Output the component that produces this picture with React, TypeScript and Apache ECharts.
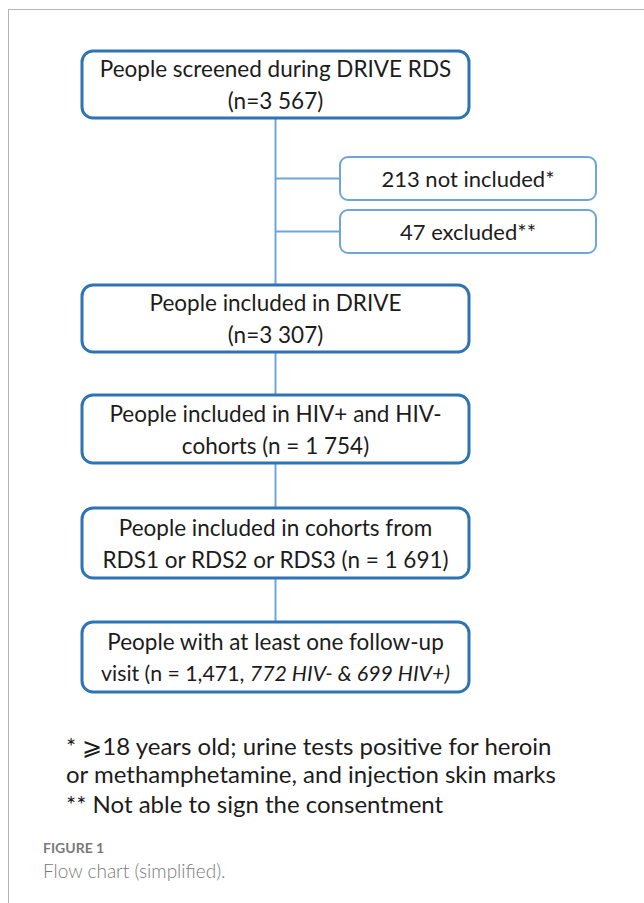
import React, { useEffect, useRef } from "react";
import * as echarts from "echarts";

// ---- content ----
const mainBoxLines: string[][] = [
  ["People screened during DRIVE RDS", "(n=3 567)"],
  ["People included in DRIVE", "(n=3 307)"],
  ["People included in HIV+ and HIV-", "cohorts (n = 1 754)"],
  ["People included in cohorts from", "RDS1 or RDS2 or RDS3 (n = 1 691)"],
  ["People with at least one follow-up", "{n|visit (n = 1,471, }{i|772 HIV- & 699 HIV+)}"],
];
const sideBoxLabels: string[] = ["213 not included*", "47 excluded**"];
const footnotes: string[] = [
  "* \u2A7E18 years old; urine tests positive for heroin",
  "or methamphetamine, and injection skin marks",
  "** Not able to sign the consentment",
];
const figureLabel = "FIGURE 1";
const captionText = "Flow chart (simplified).";

// ---- layout (styles) ----
const FONT = "Lato";
const MAIN_X = 82;
const MAIN_W = 387;
const MAIN_TOPS = [51, 285, 395, 508, 622];
const MAIN_H = [67, 67, 68, 70, 70];
const SIDE_X = 340;
const SIDE_W = 256;
const SIDE_TOPS = [157, 210];
const SIDE_H = 43;
const SPINE_X = 275.5;
const DARK_BLUE = "#2E74B5";
const LIGHT_BLUE = "#6FA6DA";
const TEXT_COLOR = "#1c1c1c";
const FS = 22.5;
const SIDE_FS = 22;
const RICH_FS = 21.3;
const FOOT_FS = 24;

export default function App() {
  const ref = useRef<HTMLDivElement>(null);
  useEffect(() => {
    if (!ref.current) return;
    const chart = echarts.init(ref.current, null, { renderer: "svg" });
    const els: any[] = [];

    // frame
    els.push({ type: "line", shape: { x1: 8, y1: 9.5, x2: 644, y2: 9.5 }, style: { stroke: "#b3b3b3", lineWidth: 1 } });
    els.push({ type: "line", shape: { x1: 8.5, y1: 9, x2: 8.5, y2: 903 }, style: { stroke: "#b3b3b3", lineWidth: 1 } });

    // connectors
    for (let i = 0; i < MAIN_TOPS.length - 1; i++) {
      const y1 = MAIN_TOPS[i] + MAIN_H[i];
      const y2 = MAIN_TOPS[i + 1];
      els.push({ type: "line", shape: { x1: SPINE_X, y1, x2: SPINE_X, y2 }, style: { stroke: LIGHT_BLUE, lineWidth: 2 } });
    }
    sideBoxLabels.forEach((label, i) => {
      const top = SIDE_TOPS[i];
      const cy = top + SIDE_H / 2;
      els.push({ type: "line", shape: { x1: SPINE_X, y1: cy, x2: SIDE_X, y2: cy }, style: { stroke: LIGHT_BLUE, lineWidth: 2 } });
      els.push({
        type: "rect",
        shape: { x: SIDE_X, y: top, width: SIDE_W, height: SIDE_H, r: 8 },
        style: { fill: "#fff", stroke: LIGHT_BLUE, lineWidth: 2 },
      });
      els.push({
        type: "text",
        style: {
          text: label, x: SIDE_X + SIDE_W / 2, y: cy, align: "center", verticalAlign: "middle",
          fontFamily: FONT, fontSize: SIDE_FS, fill: TEXT_COLOR,
        },
      });
    });

    mainBoxLines.forEach((lines, i) => {
      const top = MAIN_TOPS[i];
      const h = MAIN_H[i];
      els.push({
        type: "rect",
        shape: { x: MAIN_X, y: top, width: MAIN_W, height: h, r: 11 },
        style: { fill: "#fff", stroke: DARK_BLUE, lineWidth: 3 },
      });
      const cx = MAIN_X + MAIN_W / 2;
      const cy = top + h / 2;
      lines.forEach((ln, j) => {
        const y = cy + (j === 0 ? -16 : 16);
        const style: any = {
          text: ln, x: cx, y, align: "center", verticalAlign: "middle",
          fontFamily: FONT, fontSize: FS, fill: TEXT_COLOR,
        };
        if (ln.indexOf("{") === 0) {
          style.fontSize = RICH_FS;
          style.rich = {
            n: { fontFamily: FONT, fontSize: RICH_FS, fill: TEXT_COLOR, color: TEXT_COLOR },
            i: { fontFamily: FONT, fontSize: RICH_FS, fontStyle: "italic", fill: TEXT_COLOR, color: TEXT_COLOR },
          };
        }
        els.push({ type: "text", style });
      });
    });

    const FOOT_TOPS = [745, 773, 803];
    footnotes.forEach((t, i) => {
      els.push({
        type: "text",
        style: {
          text: t, x: 66, y: FOOT_TOPS[i], align: "left", verticalAlign: "middle",
          fontFamily: FONT, fontSize: FOOT_FS, fill: TEXT_COLOR,
        },
      });
    });

    els.push({
      type: "text",
      style: {
        text: figureLabel, x: 43, y: 847, align: "left", verticalAlign: "middle",
        fontFamily: FONT, fontSize: 14, fontWeight: "bold", fill: "#7a7a7a",
      },
    });
    els.push({
      type: "text",
      style: {
        text: captionText, x: 43, y: 870, align: "left", verticalAlign: "middle",
        fontFamily: FONT, fontSize: 19, fontWeight: 300, fill: "#7a7a7a",
      },
    });

    chart.setOption({
      animation: false,
      backgroundColor: "#ffffff",
      graphic: { elements: els },
    });
    return () => chart.dispose();
  }, []);
  return (
    <div
      ref={ref}
      style={{ position: "fixed", left: 0, top: 0, width: 644, height: 903, background: "#fff" }}
    />
  );
}
